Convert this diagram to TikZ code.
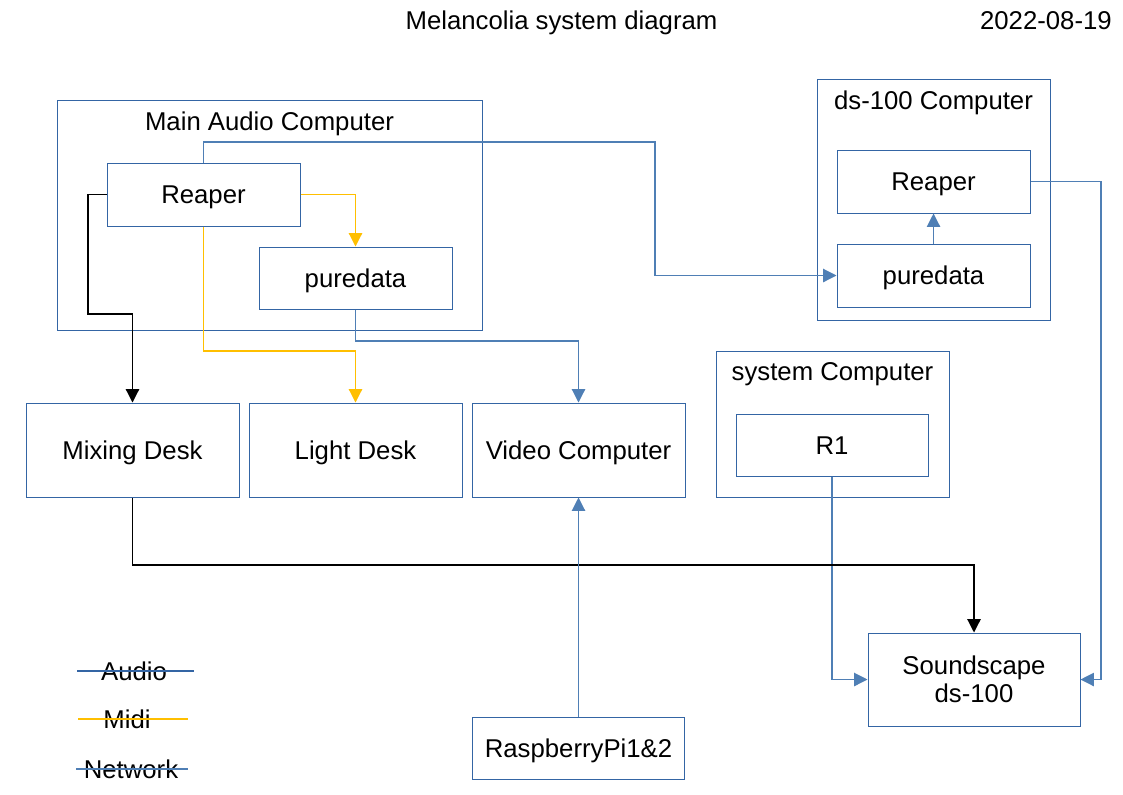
\documentclass[tikz,border=0pt]{standalone}
\usepackage{fontspec}
\setmainfont{Liberation Sans}
\usetikzlibrary{arrows.meta}
\definecolor{boxblue}{HTML}{3465A4}
\definecolor{netblue}{HTML}{4F7FB5}
\definecolor{midiyellow}{HTML}{FFBF00}
\newcommand{\diafont}{\fontsize{19.3pt}{21pt}\selectfont}
\tikzset{
  box/.style={draw=boxblue, line width=0.75pt, inner sep=0pt, align=center, font=\diafont},
  onel/.style={text height=13.8pt, text depth=0pt},
  container/.style={draw=boxblue, line width=0.75pt, inner sep=0pt},
  ctitle/.style={anchor=center, inner sep=0pt, font=\diafont, onel},
  lbl/.style={inner sep=0pt, font=\diafont, onel},
  tip/.style={-{Triangle[length=10pt,width=10pt]}},
  net/.style={draw=netblue, line width=0.85pt, tip},
  midi/.style={draw=midiyellow, line width=0.85pt, tip},
  audio/.style={draw=black, line width=0.85pt, tip},
}
\begin{document}
\begin{tikzpicture}[x=0.75pt, y=-0.75pt]
\useasboundingbox (0,0) rectangle (1123,794);
% titles
\node[lbl] (title) at (561.5,20) {Melancolia system diagram};
\node[lbl, anchor=east] (date) at (1112,20) {2022-08-19};
% containers
\node[container, minimum width=318.75pt, minimum height=172.5pt] (mac) at (269.5,215) {};
\node[ctitle] (mactitle) at (269.5,121) {Main Audio Computer};
\node[container, minimum width=174.75pt, minimum height=180.75pt] (dsc) at (933.5,199.5) {};
\node[ctitle] (dsctitle) at (933.5,100) {ds-100 Computer};
\node[container, minimum width=174.75pt, minimum height=109.5pt] (sysc) at (832.5,424) {};
\node[ctitle] (sysctitle) at (832.5,371) {system Computer};
% inner boxes
\node[box, onel, minimum width=144.75pt, minimum height=47.25pt] (reaper1) at (203.5,194.5) {Reaper};
\node[box, onel, minimum width=144.75pt, minimum height=46.5pt] (pd1) at (355.5,278) {puredata};
\node[box, onel, minimum width=144.75pt, minimum height=47.25pt] (reaper2) at (933.5,181.5) {Reaper};
\node[box, onel, minimum width=144.75pt, minimum height=47.25pt] (pd2) at (933.5,275.5) {puredata};
\node[box, onel, minimum width=144pt, minimum height=46.5pt] (r1) at (832,445) {R1};
% devices
\node[box, onel, minimum width=159.75pt, minimum height=70.5pt] (mix) at (132.5,450) {Mixing Desk};
\node[box, onel, minimum width=159.75pt, minimum height=70.5pt] (light) at (355.5,450) {Light Desk};
\node[box, onel, minimum width=159.75pt, minimum height=70.5pt] (video) at (578.5,450) {Video Computer};
\node[box, minimum width=159pt, minimum height=69.75pt] (sound) at (974,679.5) {Soundscape\\ds-100};
\node[box, onel, minimum width=159pt, minimum height=46.5pt] (rpi) at (578.5,748) {RaspberryPi1\&2};
% waypoints
\coordinate (w1) at (655,142);
\coordinate (w2) at (355.5,351);
\coordinate (w3) at (88,314);
\coordinate (w4) at (578.5,341);
\coordinate (w5) at (1101,181.5);
\coordinate (w6) at (974,565);
% connectors
\draw[net] (reaper1.north) |- (w1) |- (pd2.west);
\draw[midi] (reaper1.east) -| (pd1.north);
\draw[midi] (reaper1.south) |- (w2) -- (light.north);
\draw[audio] (reaper1.west) -| (w3) -| (mix.north);
\draw[net] (pd1.south) |- (w4) -- (video.north);
\draw[net] (pd2.north) -- (reaper2.south);
\draw[net] (reaper2.east) -- (w5) |- (sound.east);
\draw[net] (r1.south) |- (sound.west);
\draw[audio] (mix.south) |- (w6) -- (sound.north);
\draw[net] (rpi.north) -- (video.south);
% legend
\coordinate (la1) at (77,671);  \coordinate (la2) at (194,671);
\coordinate (lm1) at (78,719);  \coordinate (lm2) at (188,719);
\coordinate (ln1) at (76,769);  \coordinate (ln2) at (188,769);
\node[lbl] (laudio) at (134,671) {Audio};
\node[lbl] (lmidi) at (127,719) {Midi};
\node[lbl] (lnet) at (131,769) {Network};
\draw[boxblue, line width=0.85pt] (la1) -- (la2);
\draw[midiyellow, line width=0.85pt] (lm1) -- (lm2);
\draw[netblue, line width=0.85pt] (ln1) -- (ln2);
\end{tikzpicture}
\end{document}
